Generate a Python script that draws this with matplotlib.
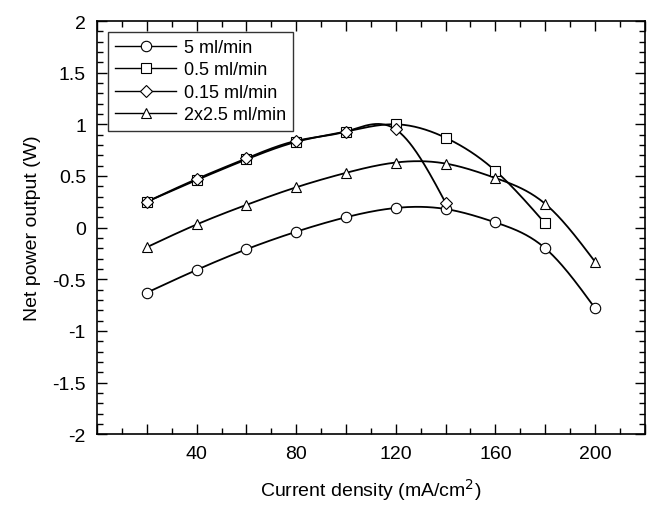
import numpy as np
import matplotlib
matplotlib.use('Agg')
import matplotlib.pyplot as plt
from matplotlib.ticker import MultipleLocator, FuncFormatter

plt.rcParams['font.family'] = ['Liberation Sans', 'DejaVu Sans']

# DATA
x_5 = [20, 40, 60, 80, 100, 120, 140, 160, 180, 200]
y_5 = [-0.63, -0.41, -0.21, -0.04, 0.10, 0.19, 0.18, 0.05, -0.20, -0.78]

x_05 = [20, 40, 60, 80, 100, 120, 140, 160, 180]
y_05 = [0.25, 0.46, 0.66, 0.83, 0.93, 1.00, 0.87, 0.55, 0.04]

x_015 = [20, 40, 60, 80, 100, 120, 140]
y_015 = [0.25, 0.47, 0.67, 0.84, 0.93, 0.95, 0.24]

x_2x25 = [20, 40, 60, 80, 100, 120, 140, 160, 180, 200]
y_2x25 = [-0.19, 0.03, 0.22, 0.39, 0.53, 0.63, 0.62, 0.48, 0.23, -0.33]

labels = ['5 ml/min', '0.5 ml/min', '0.15 ml/min', '2x2.5 ml/min']
markers = ['o', 's', 'D', '^']


def natural_spline(x, y, n=300):
    # plain natural cubic spline, only used to draw the smooth connecting line
    x = np.asarray(x, float)
    y = np.asarray(y, float)
    h = np.diff(x)
    m = len(x)
    A = np.zeros((m, m))
    b = np.zeros(m)
    A[0, 0] = A[-1, -1] = 1
    for i in range(1, m - 1):
        A[i, i - 1] = h[i - 1]
        A[i, i] = 2 * (h[i - 1] + h[i])
        A[i, i + 1] = h[i]
        b[i] = 6 * ((y[i + 1] - y[i]) / h[i] - (y[i] - y[i - 1]) / h[i - 1])
    M = np.linalg.solve(A, b)
    xs = np.linspace(x[0], x[-1], n)
    idx = np.clip(np.searchsorted(x, xs) - 1, 0, m - 2)
    x0, x1 = x[idx], x[idx + 1]
    hh = x1 - x0
    t0, t1 = x1 - xs, xs - x0
    ys = (M[idx] * t0 ** 3 + M[idx + 1] * t1 ** 3) / (6 * hh) \
        + (y[idx] / hh - M[idx] * hh / 6) * t0 \
        + (y[idx + 1] / hh - M[idx + 1] * hh / 6) * t1
    return xs, ys


fig = plt.figure(figsize=(6.49, 5.06), dpi=100)
ax = fig.add_axes([0.1495, 0.140, 0.844, 0.8165])

series = [(x_5, y_5), (x_05, y_05), (x_015, y_015), (x_2x25, y_2x25)]
for (xs, ys), lab, mk in zip(series, labels, markers):
    sx, sy = natural_spline(xs, ys)
    ax.plot(sx, sy, color='black', lw=1.3, zorder=2)
    ms = 6 if mk == 'D' else 7.5
    ax.plot(xs, ys, ls='none', marker=mk, ms=ms, mfc='white', mec='black',
            mew=0.8, zorder=3)
    # proxy for the legend
    ax.plot([], [], color='black', lw=1.0, marker=mk, ms=ms, mfc='white',
            mec='black', mew=0.8, label=lab)

ax.set_xlim(0, 220)
ax.set_ylim(-2, 2)
ax.xaxis.set_major_locator(MultipleLocator(20))
ax.xaxis.set_minor_locator(MultipleLocator(10))
ax.xaxis.set_major_formatter(FuncFormatter(lambda v, p: f'{v:.0f}' if v % 40 == 0 and v > 0 else ''))
ax.yaxis.set_major_locator(MultipleLocator(0.5))
ax.yaxis.set_minor_locator(MultipleLocator(0.1))
ax.yaxis.set_major_formatter(FuncFormatter(lambda v, p: f'{v:g}'))

ax.tick_params(which='both', direction='in', top=True, right=True, labelsize=14, width=1)
ax.tick_params(which='major', length=7, pad=8)
ax.tick_params(which='minor', length=4)
for s in ax.spines.values():
    s.set_linewidth(1.2)

ax.set_xlabel('Current density (mA/cm$^2$)', fontsize=14, labelpad=10)
ax.set_ylabel('Net power output (W)', fontsize=14, labelpad=8)

leg = ax.legend(loc='upper left', fontsize=13, frameon=True, fancybox=False,
                edgecolor='black', handlelength=3.4, borderaxespad=0.6,
                labelspacing=0.3, handletextpad=0.4, borderpad=0.4)
leg.get_frame().set_linewidth(1.0)

plt.savefig('out.png', dpi=100)
